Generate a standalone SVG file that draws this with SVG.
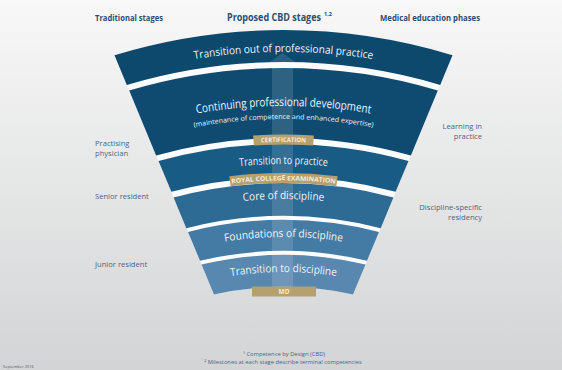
<svg xmlns="http://www.w3.org/2000/svg" width="562" height="370" viewBox="0 0 562 370">
<style>
text{font-family:"Open Sans","Noto Sans",sans-serif}
.hd{font-weight:700;fill:#2d4d70}
.side{font-size:7.6px;fill:#4a6683}
.bt{fill:#eef3f8;text-anchor:middle}
.badge{fill:none;stroke:#b5a070}
.bl{font-weight:700;font-size:6.4px;fill:#f4ecd8;text-anchor:middle}
.fn{font-size:5.8px;fill:#45668a;text-anchor:middle}
</style>
<defs>
<linearGradient id="bg" x1="0" y1="0" x2="0" y2="1">
<stop offset="0" stop-color="#f8f8f8"/>
<stop offset="1" stop-color="#d3d4d5"/>
</linearGradient>
<path id="t1" d="M133.5,72.5 A558,558 0 0 1 433.5,72.5"/>
<path id="t2" d="M133.5,128.8 A504,504 0 0 1 433.5,128.8"/>
<path id="t2b" d="M133.5,142.5 A491,491 0 0 1 433.5,142.5"/>
<path id="t3" d="M133.5,190 A446,446 0 0 1 433.5,190"/>
<path id="t4" d="M133.5,227.4 A411,411 0 0 1 433.5,227.4"/>
<path id="t5" d="M133.5,268.5 A373,373 0 0 1 433.5,268.5"/>
<path id="t6" d="M133.5,307.1 A338,338 0 0 1 433.5,307.1"/>
<path id="tc" d="M223.5,145.8 A468.1,468.1 0 0 1 343.5,145.8"/>
<path id="tr" d="M203.5,187.9 A429.6,429.6 0 0 1 363.5,187.9"/>
</defs>
<rect width="562" height="370" fill="url(#bg)"/>
<path d="M114.5,55.2 A580,580 0 0 1 452.5,55.2 L353,294.5 A323,323 0 0 0 214,294.5 Z" fill="#fbfcfd"/>

<g id="b1">
<path d="M114.5,55.2 A580,580 0 0 1 452.5,55.2 L440.2,84.9 A548,548 0 0 0 126.8,84.9 Z" fill="#0d486d"/>
<text class="bt" font-size="11"><textPath href="#t1" startOffset="50%" textLength="179" lengthAdjust="spacingAndGlyphs">Transition out of professional practice</textPath></text>
</g>
<g id="b2">
<path d="M129.2,90.5 A542,542 0 0 1 437.8,90.5 L410.9,155.4 A472,472 0 0 0 156.1,155.4 Z" fill="#0f4b71"/>
<text class="bt" font-size="12"><textPath href="#t2" startOffset="50%" textLength="175" lengthAdjust="spacingAndGlyphs">Continuing professional development</textPath></text>
<text class="bt" font-size="6.8"><textPath href="#t2b" startOffset="50%" textLength="180" lengthAdjust="spacingAndGlyphs">(maintenance of competence and enhanced expertise)</textPath></text>
</g>
<g id="b3">
<path d="M158.5,161.1 A466,466 0 0 1 408.5,161.1 L395.6,191.8 A433,433 0 0 0 171.4,191.8 Z" fill="#185b85"/>
<text class="bt" font-size="11"><textPath href="#t3" startOffset="50%" textLength="88" lengthAdjust="spacingAndGlyphs">Transition to practice</textPath></text>
</g>
<g id="b4">
<path d="M173.6,197.4 A427,427 0 0 1 393.4,197.4 L380.7,228.2 A394,394 0 0 0 186.3,228.2 Z" fill="#2d6a94"/>
<text class="bt" font-size="11"><textPath href="#t4" startOffset="50%" textLength="81" lengthAdjust="spacingAndGlyphs">Core of discipline</textPath></text>
</g>
<g id="b5">
<path d="M188,231.9 A390,390 0 0 1 379,231.9 L367,260.8 A359,359 0 0 0 200,260.8 Z" fill="#437ba5"/>
<text class="bt" font-size="11"><textPath href="#t5" startOffset="50%" textLength="118" lengthAdjust="spacingAndGlyphs">Foundations of discipline</textPath></text>
</g>
<g id="b6">
<path d="M201.5,264.6 A355,355 0 0 1 365.5,264.6 L353,294.5 A323,323 0 0 0 214,294.5 Z" fill="#5887b0"/>
<text class="bt" font-size="11"><textPath href="#t6" startOffset="50%" textLength="106" lengthAdjust="spacingAndGlyphs">Transition to discipline</textPath></text>
</g>

<g id="connectors">
<path d="M282.5,53 L304,68 L293,68 L293,288 L272,288 L272,68 L261,68 Z" fill="#ffffff" fill-opacity="0.13"/>
</g>

<g id="certification">
<path class="badge" stroke-width="10" d="M253.5,140.5 A470.5,470.5 0 0 1 313.5,140.5"/>
<text class="bl"><textPath href="#tc" startOffset="50%" textLength="45" lengthAdjust="spacingAndGlyphs">CERTIFICATION</textPath></text>
</g>
<g id="royal-college-examination">
<path class="badge" stroke-width="10" d="M230,181.3 A432,432 0 0 1 337,181.3"/>
<text class="bl"><textPath href="#tr" startOffset="50%" textLength="104" lengthAdjust="spacingAndGlyphs">ROYAL COLLEGE EXAMINATION</textPath></text>
</g>
<g id="md">
<rect x="252" y="286.5" width="64" height="10" fill="#b5a070"/>
<text class="bl" x="284" y="294">MD</text>
</g>

<g id="headers">
<text class="hd" x="95" y="21" font-size="8.8" textLength="68" lengthAdjust="spacingAndGlyphs">Traditional stages</text>
<text class="hd" x="227" y="21" font-size="11"><tspan textLength="94" lengthAdjust="spacingAndGlyphs">Proposed CBD stages</tspan><tspan dx="3" dy="-5" font-size="5.5">1,2</tspan></text>
<text class="hd" x="380" y="21" font-size="8.8" textLength="100" lengthAdjust="spacingAndGlyphs">Medical education phases</text>
</g>
<g id="traditional">
<text class="side" x="95" y="146">Practising</text>
<text class="side" x="95" y="156">physician</text>
<text class="side" x="95" y="199">Senior resident</text>
<text class="side" x="95" y="267">Junior resident</text>
</g>
<g id="phases" text-anchor="end">
<text class="side" x="482" y="129">Learning in</text>
<text class="side" x="482" y="139">practice</text>
<text class="side" x="482" y="210">Discipline-specific</text>
<text class="side" x="482" y="220">residency</text>
</g>
<g id="footnotes">
<text class="fn" x="284" y="356">¹ Competence by Design (CBD)</text>
<text class="fn" x="283" y="364">² Milestones at each stage describe terminal competencies</text>
<text x="3" y="368" font-size="4" fill="#4a5a6a">September 2016</text>
</g>
</svg>
